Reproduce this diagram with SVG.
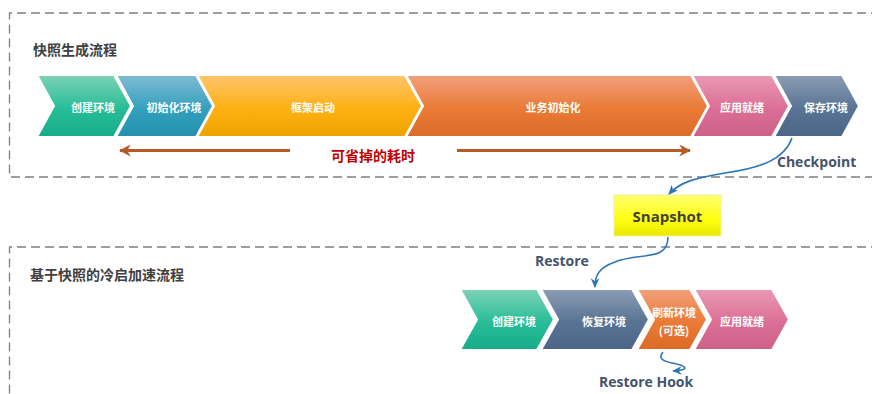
<svg xmlns="http://www.w3.org/2000/svg" width="872" height="394" viewBox="0 0 872 394">
<defs>
<linearGradient id="gGreen" x1="0" y1="0" x2="0" y2="1"><stop offset="0" stop-color="#7dd3b4"/><stop offset="0.55" stop-color="#27bd98"/><stop offset="1" stop-color="#17ab88"/></linearGradient>
<linearGradient id="gBlue" x1="0" y1="0" x2="0" y2="1"><stop offset="0" stop-color="#80bcd2"/><stop offset="0.55" stop-color="#33a0be"/><stop offset="1" stop-color="#2590b0"/></linearGradient>
<linearGradient id="gYellow" x1="0" y1="0" x2="0" y2="1"><stop offset="0" stop-color="#ffc56e"/><stop offset="0.55" stop-color="#fdb012"/><stop offset="1" stop-color="#eea300"/></linearGradient>
<linearGradient id="gOrange" x1="0" y1="0" x2="0" y2="1"><stop offset="0" stop-color="#f1a07c"/><stop offset="0.55" stop-color="#ea7a36"/><stop offset="1" stop-color="#dc6a28"/></linearGradient>
<linearGradient id="gPink" x1="0" y1="0" x2="0" y2="1"><stop offset="0" stop-color="#e99ab4"/><stop offset="0.55" stop-color="#dc6e95"/><stop offset="1" stop-color="#cc6187"/></linearGradient>
<linearGradient id="gSlate" x1="0" y1="0" x2="0" y2="1"><stop offset="0" stop-color="#8c9db4"/><stop offset="0.55" stop-color="#587393"/><stop offset="1" stop-color="#4a6587"/></linearGradient>
<linearGradient id="gSnap" x1="0" y1="0" x2="0" y2="1"><stop offset="0" stop-color="#ffff70"/><stop offset="0.6" stop-color="#ffff10"/><stop offset="1" stop-color="#e8e800"/></linearGradient>
<marker id="brownHead" viewBox="0 0 10 10" refX="9" refY="5" markerWidth="4" markerHeight="4" orient="auto-start-reverse" markerUnits="strokeWidth"><path d="M0,0 L10,5 L0,10 L3,5 Z" fill="#b65a28"/></marker>
<marker id="blueHead" viewBox="0 0 10 10" refX="9" refY="5" markerWidth="6" markerHeight="6" orient="auto" markerUnits="strokeWidth"><path d="M0,0.5 L10,5 L0,9.5 L3,5 Z" fill="#2e75b6"/></marker>
</defs>
<style>
.dash{fill:none;stroke:#7f7f7f;stroke-width:1.3;stroke-dasharray:9 5}
.chev{stroke:#ffffff;stroke-width:2;stroke-linejoin:miter}
.lbl{font-family:"Noto Sans CJK SC","Noto Sans",sans-serif;font-size:11px;font-weight:bold;fill:#ffffff;text-anchor:middle;dominant-baseline:central}
.title{font-family:"Noto Sans CJK SC","Noto Sans",sans-serif;font-size:14px;font-weight:bold;fill:#404040}
.en{font-family:"Open Sans","Noto Sans",sans-serif;font-size:14px;font-weight:bold;fill:#44546a}
.conn{fill:none;stroke:#2e75b6;stroke-width:1.6}
.brown{fill:none;stroke:#b65a28;stroke-width:3}
</style>
<rect width="872" height="394" fill="#ffffff"/>
<path class="dash" d="M880,13 H9.5 V177 H880"/>
<path class="dash" d="M880,247 H9.5 V400"/>
<text class="title" x="33" y="55">快照生成流程</text>
<text class="title" x="30" y="280">基于快照的冷启加速流程</text>

<g id="top-create"><polygon class="chev" fill="url(#gGreen)" points="37,75 114,75 131,106 114,137 37,137 54,106"/><text class="lbl" x="93" y="107">创建环境</text></g>
<g id="top-init-env"><polygon class="chev" fill="url(#gBlue)" points="116,75 196,75 213,106 196,137 116,137 133,106"/><text class="lbl" x="174" y="107">初始化环境</text></g>
<g id="top-framework"><polygon class="chev" fill="url(#gYellow)" points="197,75 405,75 422,106 405,137 197,137 214,106"/><text class="lbl" x="313" y="107">框架启动</text></g>
<g id="top-biz-init"><polygon class="chev" fill="url(#gOrange)" points="406,75 691,75 708,106 691,137 406,137 423,106"/><text class="lbl" x="553" y="107">业务初始化</text></g>
<g id="top-ready"><polygon class="chev" fill="url(#gPink)" points="692,75 772,75 789,106 772,137 692,137 709,106"/><text class="lbl" x="742" y="107">应用就绪</text></g>
<g id="top-save"><polygon class="chev" fill="url(#gSlate)" points="774,75 842,75 859,106 842,137 774,137 791,106"/><text class="lbl" x="826" y="107">保存环境</text></g>

<g id="snapshot"><rect x="614" y="195" width="107" height="41" fill="url(#gSnap)" stroke="#f2f2a0" stroke-width="1"/><text x="667.5" y="216" font-family="Open Sans, Noto Sans, sans-serif" font-size="15" font-weight="bold" fill="#404040" text-anchor="middle" dominant-baseline="central">Snapshot</text></g>

<g id="bot-create"><polygon class="chev" fill="url(#gGreen)" points="460,289 537,289 554,319.5 537,350 460,350 477,319.5"/><text class="lbl" x="514" y="321">创建环境</text></g>
<g id="bot-restore"><polygon class="chev" fill="url(#gSlate)" points="541,289 632,289 649,319.5 632,350 541,350 558,319.5"/><text class="lbl" x="604" y="321">恢复环境</text></g>
<g id="bot-refresh"><polygon class="chev" fill="url(#gOrange)" points="637,289 690,289 707,319.5 690,350 637,350 654,319.5"/><text class="lbl" x="674" y="312">刷新环境</text><text class="lbl" x="674" y="330">(可选)</text></g>
<g id="bot-ready"><polygon class="chev" fill="url(#gPink)" points="694,289 772,289 789,319.5 772,350 694,350 711,319.5"/><text class="lbl" x="742" y="321">应用就绪</text></g>

<g id="connectors">
<line class="brown" x1="290" y1="150.5" x2="120" y2="150.5" marker-end="url(#brownHead)"/>
<line class="brown" x1="457" y1="150.5" x2="690" y2="150.5" marker-end="url(#brownHead)"/>
<path class="conn" d="M792,138 C784,160 760,168 725,173 C695,178 680,182 669,194" marker-end="url(#blueHead)"/>
<path class="conn" d="M668,237 C668,262 640,252 615,262 C598,268 595,276 595,287" marker-end="url(#blueHead)"/>
<path class="conn" d="M663,352 C658,358 662,361 672,363 C688,366 690,370 673,371" marker-end="url(#blueHead)"/>
</g>
<text x="373" y="161" font-family="Noto Sans CJK SC, Noto Sans, sans-serif" font-size="14" font-weight="bold" fill="#c00000" text-anchor="middle">可省掉的耗时</text>
<text class="en" x="777" y="167">Checkpoint</text>
<text class="en" x="535" y="266">Restore</text>
<text class="en" x="599" y="387">Restore Hook</text>
</svg>
